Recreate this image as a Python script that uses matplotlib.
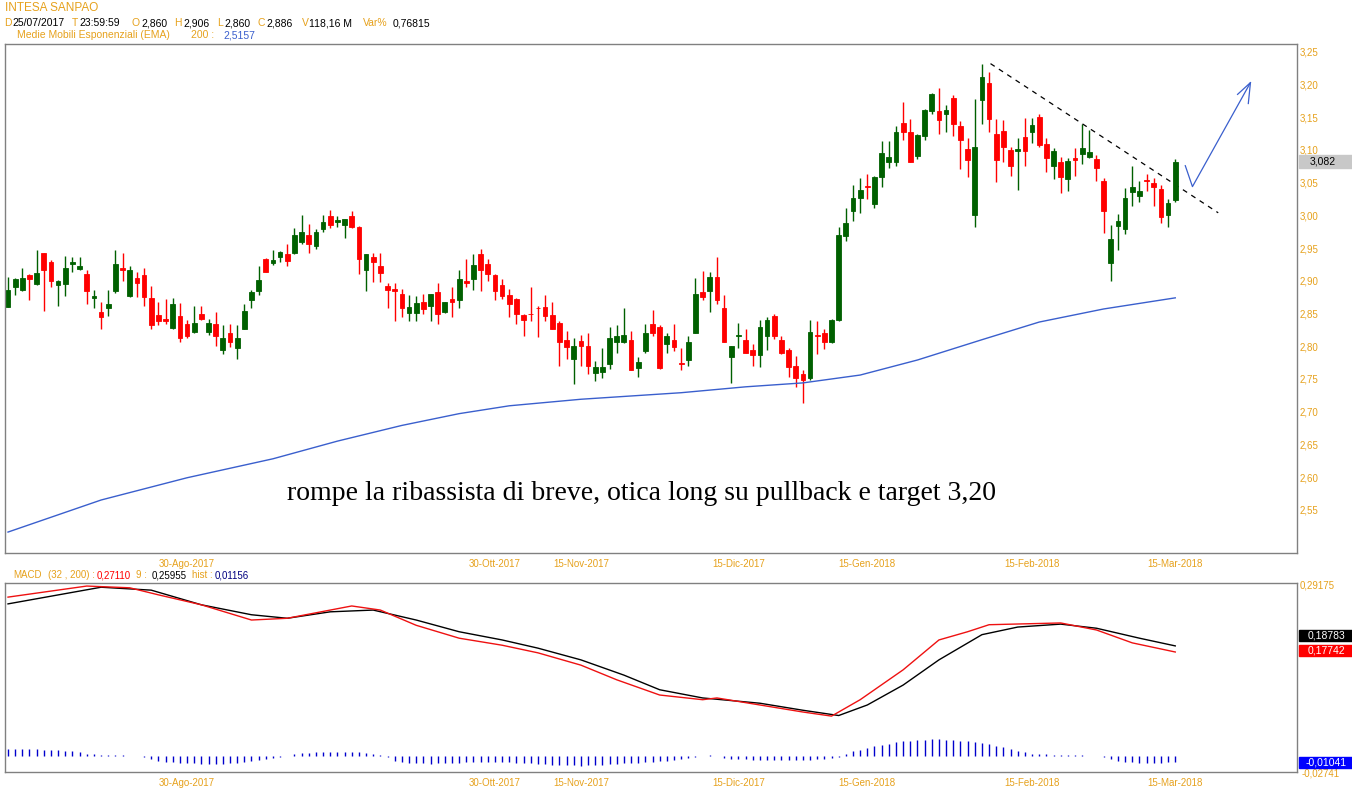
import numpy as np
import pandas as pd
import matplotlib
matplotlib.use("Agg")
import matplotlib.pyplot as plt
from matplotlib.patches import Rectangle
from matplotlib.ticker import FuncFormatter

# ---------------- dati ----------------
start_date = "2017-07-25"
market_holidays = ["2017-08-15", "2017-12-25", "2017-12-26", "2018-01-01"]

opens = [2.860, 2.890, 2.886, 2.909, 2.895, 2.942, 2.929, 2.893, 2.895, 2.925,
         2.918, 2.911, 2.873, 2.853, 2.858, 2.885, 2.920, 2.877, 2.904, 2.909,
         2.873, 2.848, 2.841, 2.828, 2.846, 2.834, 2.822, 2.850, 2.822, 2.834,
         2.795, 2.821, 2.797, 2.827, 2.870, 2.885, 2.934, 2.928, 2.936, 2.941,
         2.942, 2.960, 2.970, 2.954, 2.979, 2.999, 2.990, 2.985, 2.999, 2.983,
         2.916, 2.937, 2.923, 2.892, 2.887, 2.880, 2.851, 2.851, 2.867, 2.861,
         2.883, 2.852, 2.872, 2.870, 2.900, 2.903, 2.941, 2.926, 2.909, 2.894,
         2.878, 2.872, 2.848, 2.850, 2.859, 2.860, 2.848, 2.836, 2.809, 2.781,
         2.808, 2.800, 2.759, 2.761, 2.773, 2.806, 2.806, 2.810, 2.767, 2.793,
         2.834, 2.829, 2.803, 2.810, 2.775, 2.779, 2.821, 2.883, 2.884, 2.906,
         2.859, 2.783, 2.815, 2.810, 2.794, 2.787, 2.815, 2.846, 2.810, 2.795,
         2.770, 2.757, 2.752, 2.817, 2.820, 2.807, 2.840, 2.969, 3.006, 3.027,
         3.045, 3.018, 3.058, 3.081, 3.081, 3.142, 3.128, 3.091, 3.122, 3.160,
         3.160, 3.155, 3.180, 3.137, 3.102, 3.000, 3.176, 3.202, 3.125, 3.129,
         3.100, 3.099, 3.120, 3.127, 3.151, 3.109, 3.076, 3.081, 3.055, 3.087,
         3.094, 3.090, 3.086, 3.053, 2.928, 2.984, 2.979, 3.036, 3.030, 3.054,
         3.050, 3.041, 3.000, 3.024]
highs = [2.906, 2.904, 2.919, 2.910, 2.947, 2.943, 2.932, 2.901, 2.938, 2.936,
         2.937, 2.917, 2.886, 2.867, 2.886, 2.947, 2.943, 2.923, 2.913, 2.919,
         2.892, 2.868, 2.872, 2.873, 2.866, 2.840, 2.862, 2.862, 2.841, 2.853,
         2.833, 2.834, 2.833, 2.865, 2.886, 2.923, 2.935, 2.947, 2.945, 2.956,
         2.980, 3.000, 2.987, 2.979, 3.001, 3.008, 2.999, 2.995, 3.007, 2.984,
         2.941, 2.942, 2.943, 2.896, 2.896, 2.887, 2.878, 2.877, 2.880, 2.880,
         2.896, 2.868, 2.890, 2.917, 2.934, 2.941, 2.948, 2.934, 2.911, 2.903,
         2.887, 2.873, 2.850, 2.890, 2.861, 2.878, 2.867, 2.839, 2.823, 2.813,
         2.817, 2.820, 2.777, 2.797, 2.829, 2.833, 2.858, 2.824, 2.783, 2.834,
         2.855, 2.833, 2.820, 2.834, 2.797, 2.816, 2.905, 2.915, 2.913, 2.937,
         2.878, 2.801, 2.835, 2.826, 2.803, 2.840, 2.844, 2.850, 2.816, 2.797,
         2.785, 2.764, 2.840, 2.839, 2.827, 2.842, 2.982, 3.011, 3.046, 3.057,
         3.064, 3.060, 3.114, 3.114, 3.137, 3.173, 3.147, 3.124, 3.162, 3.187,
         3.194, 3.169, 3.184, 3.144, 3.118, 3.178, 3.232, 3.219, 3.147, 3.146,
         3.104, 3.118, 3.149, 3.149, 3.155, 3.118, 3.103, 3.089, 3.088, 3.103,
         3.139, 3.131, 3.092, 3.057, 2.985, 3.002, 3.042, 3.076, 3.053, 3.063,
         3.057, 3.046, 3.025, 3.086]
lows = [2.860, 2.878, 2.884, 2.870, 2.893, 2.854, 2.890, 2.861, 2.877, 2.914,
        2.917, 2.865, 2.859, 2.827, 2.847, 2.882, 2.899, 2.875, 2.876, 2.861,
        2.826, 2.833, 2.834, 2.827, 2.807, 2.812, 2.821, 2.840, 2.817, 2.801,
        2.788, 2.799, 2.780, 2.826, 2.858, 2.878, 2.913, 2.924, 2.929, 2.923,
        2.941, 2.956, 2.942, 2.949, 2.975, 2.980, 2.982, 2.966, 2.980, 2.910,
        2.885, 2.898, 2.898, 2.859, 2.839, 2.845, 2.838, 2.839, 2.850, 2.839,
        2.834, 2.851, 2.845, 2.858, 2.890, 2.886, 2.885, 2.899, 2.871, 2.872,
        2.845, 2.834, 2.816, 2.839, 2.814, 2.839, 2.826, 2.770, 2.780, 2.742,
        2.770, 2.758, 2.747, 2.751, 2.765, 2.790, 2.805, 2.763, 2.753, 2.790,
        2.815, 2.766, 2.790, 2.793, 2.763, 2.770, 2.820, 2.871, 2.852, 2.864,
        2.806, 2.744, 2.798, 2.789, 2.770, 2.768, 2.795, 2.811, 2.788, 2.753,
        2.737, 2.713, 2.749, 2.788, 2.796, 2.805, 2.839, 2.961, 2.992, 3.004,
        3.025, 3.012, 3.043, 3.072, 3.075, 3.115, 3.081, 3.086, 3.115, 3.155,
        3.125, 3.127, 3.121, 3.071, 3.059, 2.982, 3.139, 3.128, 3.051, 3.081,
        3.060, 3.039, 3.076, 3.111, 3.104, 3.067, 3.055, 3.035, 3.037, 3.060,
        3.078, 3.087, 3.053, 2.973, 2.899, 2.947, 2.971, 3.015, 3.020, 3.037,
        3.015, 2.989, 2.983, 3.020]
closes = [2.886, 2.903, 2.905, 2.903, 2.912, 2.916, 2.899, 2.900, 2.919, 2.929,
          2.923, 2.884, 2.877, 2.845, 2.865, 2.926, 2.916, 2.917, 2.896, 2.876,
          2.833, 2.839, 2.839, 2.865, 2.812, 2.815, 2.835, 2.841, 2.835, 2.815,
          2.813, 2.806, 2.813, 2.854, 2.883, 2.902, 2.914, 2.932, 2.944, 2.931,
          2.970, 2.974, 2.956, 2.975, 2.990, 2.986, 2.993, 2.995, 2.983, 2.933,
          2.941, 2.929, 2.912, 2.886, 2.885, 2.858, 2.860, 2.866, 2.857, 2.880,
          2.850, 2.868, 2.867, 2.903, 2.896, 2.924, 2.916, 2.911, 2.885, 2.877,
          2.865, 2.850, 2.840, 2.849, 2.858, 2.846, 2.827, 2.806, 2.799, 2.800,
          2.801, 2.770, 2.768, 2.768, 2.812, 2.816, 2.817, 2.764, 2.776, 2.820,
          2.821, 2.767, 2.816, 2.799, 2.773, 2.807, 2.880, 2.876, 2.906, 2.871,
          2.807, 2.801, 2.817, 2.790, 2.787, 2.829, 2.840, 2.816, 2.789, 2.769,
          2.752, 2.748, 2.822, 2.815, 2.807, 2.840, 2.970, 2.988, 3.026, 3.039,
          3.043, 3.059, 3.095, 3.089, 3.128, 3.128, 3.082, 3.123, 3.161, 3.186,
          3.146, 3.161, 3.139, 3.115, 3.084, 3.105, 3.211, 3.148, 3.084, 3.104,
          3.075, 3.102, 3.098, 3.138, 3.108, 3.088, 3.099, 3.058, 3.083, 3.085,
          3.103, 3.097, 3.073, 3.006, 2.964, 2.992, 3.027, 3.043, 3.038, 3.052,
          3.043, 2.997, 3.019, 3.082]

ema_idx = [0, 13, 25, 37, 46, 55, 63, 70, 80, 94, 103, 111, 119, 127, 136, 144, 153, 163]
ema_val = [2.516, 2.565, 2.599, 2.628, 2.655, 2.679, 2.697, 2.709, 2.719, 2.729,
           2.738, 2.744, 2.756, 2.779, 2.810, 2.837, 2.857, 2.874]

# MACD (linea rossa) e segnale (linea nera)
macd_idx = [0, 11, 17, 21, 27, 34, 39, 45, 48, 52, 57, 63, 69, 74, 80, 85, 91, 97,
            99, 105, 111, 115, 119, 125, 130, 134, 137, 147, 152, 157, 163]
macd_val = [0.2711, 0.290, 0.287, 0.275, 0.258, 0.232, 0.235, 0.249, 0.256, 0.249,
            0.223, 0.201, 0.189, 0.176, 0.155, 0.130, 0.104, 0.096, 0.099, 0.087,
            0.075, 0.068, 0.096, 0.147, 0.198, 0.212, 0.224, 0.227, 0.215, 0.193,
            0.17742]
sig_idx = [0, 13, 20, 27, 34, 39, 45, 51, 57, 63, 69, 74, 80, 86, 91, 97, 105, 111,
           116, 120, 125, 130, 136, 141, 147, 152, 158, 163]
sig_val = [0.25955, 0.288, 0.283, 0.258, 0.241, 0.235, 0.246, 0.249, 0.232, 0.212,
           0.198, 0.184, 0.164, 0.138, 0.113, 0.099, 0.090, 0.078, 0.069, 0.087,
           0.121, 0.164, 0.207, 0.220, 0.225, 0.218, 0.201, 0.18783]

hist = [0.0116, 0.0118, 0.0118, 0.0116, 0.0112, 0.0108, 0.0102, 0.0095, 0.0088, 0.0080, 0.0070,
        0.0040, 0.0025, 0.0015, 0.0012, 0.0010, 0.0008, 0.0006, 0.0003,
        -0.0020, -0.0060, -0.0080, -0.0095, -0.0105, -0.0115, -0.0122, -0.0128, -0.0132,
        -0.0135, -0.0135, -0.0132, -0.0125, -0.0115, -0.0100, -0.0085, -0.0065,
        -0.0045, -0.0030, -0.0015, 0.0005,
        0.0030, 0.0045, 0.0055, 0.0060, 0.0065, 0.0068, 0.0070, 0.0072, 0.0068, 0.0060, 0.0050,
        0.0030, 0.0010, -0.0020,
        -0.0080, -0.0105, -0.0118, -0.0125, -0.0128, -0.0130, -0.0128, -0.0125, -0.0120,
        -0.0115, -0.0110, -0.0105, -0.0102, -0.0100, -0.0102, -0.0105, -0.0108, -0.0112,
        -0.0118, -0.0125, -0.0132, -0.0140, -0.0148, -0.0155, -0.0160, -0.0163, -0.0165,
        -0.0163, -0.0158, -0.0150, -0.0142, -0.0135, -0.0128, -0.0120, -0.0112, -0.0105,
        -0.0098, -0.0090, -0.0080, -0.0068, -0.0055, -0.0040, -0.0020,
        0.0005, 0.0010, 0.0005,
        -0.0030, -0.0045, -0.0055, -0.0060, -0.0065, -0.0068, -0.0070, -0.0072, -0.0072,
        -0.0070, -0.0068, -0.0065, -0.0062, -0.0058, -0.0050, -0.0035, -0.0015,
        0.0040, 0.0080, 0.0110, 0.0140, 0.0165, 0.0190, 0.0212, 0.0232, 0.0250, 0.0262,
        0.0272, 0.0278, 0.0282, 0.0283, 0.0280, 0.0272, 0.0262, 0.0250, 0.0235, 0.0218,
        0.0198, 0.0175, 0.0150, 0.0120, 0.0090, 0.0060,
        0.0040, 0.0030, 0.0025, 0.0020, 0.0015, 0.0012, 0.0010, 0.0008, 0.0005, 0.0003, -0.0010,
        -0.0060, -0.0085, -0.0100, -0.0110, -0.0115, -0.0118, -0.0118, -0.0115, -0.0110, -0.01041]

tick_dates = ["2017-08-30", "2017-10-30", "2017-11-15", "2017-12-15",
              "2018-01-15", "2018-02-15", "2018-03-15"]
tick_labels = ["30-Ago-2017", "30-Ott-2017", "15-Nov-2017", "15-Dic-2017",
               "15-Gen-2018", "15-Feb-2018", "15-Mar-2018"]

# linea ribassista tratteggiata e freccia del target (indice barra, prezzo)
trend_x = [137.2, 169.0]
trend_y = [3.232, 3.004]
arrow_x = [164.4, 165.4, 173.5]
arrow_y = [3.076, 3.044, 3.203]
head_x = [171.7, 173.5, 173.2]
head_y = [3.185, 3.203, 3.171]

# ---------------- grafico ----------------
ORANGE = "#e6a11c"
GREEN = "#006000"
RED = "#ff0000"
BLUE = "#3a5fcd"
W, H = 1352, 800

plt.rcParams["font.family"] = ["Liberation Sans", "DejaVu Sans"]

def fx(x):
    return x / W

def fy(y):
    return 1 - y / H

o = np.array(opens); h = np.array(highs); l = np.array(lows); c = np.array(closes)
idx = np.arange(len(c))
dates = pd.bdate_range(start_date, periods=len(c), freq="C", holidays=market_holidays)
tick_pos = [dates.get_loc(pd.Timestamp(d)) for d in tick_dates]

fig = plt.figure(figsize=(W / 100, H / 100), dpi=100)
ax = fig.add_axes([fx(5), fy(553), fx(1292), 509 / H])
ax2 = fig.add_axes([fx(5), fy(772), fx(1292), 189 / H])

col = np.where(c >= o, GREEN, RED)
ax.vlines(idx, l, h, colors=col, lw=1, zorder=2)
ax.bar(idx, c - o, bottom=o, width=0.66, color=col, edgecolor=col, linewidth=0.6, zorder=3)
ax.plot(ema_idx, ema_val, color=BLUE, lw=1, zorder=2)

ax.plot(trend_x, trend_y, color="black", lw=0.9, dashes=(4, 4))
ax.plot(arrow_x, arrow_y, color=BLUE, lw=0.9)
ax.plot(head_x, head_y, color=BLUE, lw=0.9)

ax.text((287 - 5) / 1292, (553 - 493) / 509,
        "rompe la ribassista di breve, otica long su pullback e target 3,20",
        transform=ax.transAxes, family=["Liberation Serif", "DejaVu Serif"],
        fontsize=20, va="center", ha="left")

it_fmt = FuncFormatter(lambda v, p: f"{v:.2f}".replace(".", ","))
ax.set_xlim(-0.42, 180)
ax.set_ylim(2.484, 3.262)
ax.set_yticks(np.arange(2.55, 3.26, 0.05))
ax.yaxis.set_major_formatter(it_fmt)
ax.yaxis.tick_right()
ax.set_xticks(tick_pos)
ax.set_xticklabels(tick_labels)

ax2.vlines(idx, 0, hist, colors="#0000cc", lw=1)
ax2.plot(sig_idx, sig_val, color="black", lw=1)
ax2.plot(macd_idx, macd_val, color="#ee1111", lw=1)
ax2.set_xlim(-0.42, 180)
ax2.set_ylim(-0.0274, 0.2952)
ax2.set_yticks([])
ax2.set_xticks(tick_pos)
ax2.set_xticklabels(tick_labels)

for a in (ax, ax2):
    for s in a.spines.values():
        s.set_color("#808080")
        s.set_linewidth(1)
    a.tick_params(axis="x", length=0, labelsize=7, labelcolor=ORANGE, pad=4)
    a.tick_params(axis="y", length=0, labelsize=7, labelcolor=ORANGE, pad=2)

# etichette a destra
fig.patches.append(Rectangle((fx(1299), fy(168)), fx(53), 13 / H, transform=fig.transFigure,
                             color="#c8c8c8", zorder=1))
fig.text(fx(1323), fy(161.5), "3,082", ha="center", va="center", fontsize=7.5, color="black")

fig.text(fx(1300), fy(585), "0,29175", ha="left", va="center", fontsize=7, color=ORANGE)
fig.text(fx(1302), fy(773), "-0,02741", ha="left", va="center", fontsize=7, color=ORANGE,
         zorder=1)
for ytop, txt, bg in [(630, "0,18783", "black"), (645, "0,17742", RED), (757, "-0,01041", "#0000ff")]:
    fig.patches.append(Rectangle((fx(1299), fy(ytop + 11)), fx(53), 11 / H,
                                 transform=fig.transFigure, color=bg, zorder=2))
    fig.text(fx(1326), fy(ytop + 5.5), txt, ha="center", va="center", fontsize=7.5,
             color="white", zorder=3)

# intestazioni
fig.text(fx(5), fy(8), "INTESA SANPAO", fontsize=8.5, color=ORANGE, va="center")
line2 = [(4, "D", ORANGE), (12, "25/07/2017", "black"), (72, "T", ORANGE), (79, "23:59:59", "black"),
         (132, "O", ORANGE), (141, "2,860", "black"), (174, "H", ORANGE), (183, "2,906", "black"),
         (217, "L", ORANGE), (224, "2,860", "black"), (258, "C", ORANGE), (266, "2,886", "black"),
         (302, "V", ORANGE), (309, "118,16 M", "black"), (363, "Var%", ORANGE), (393, "0,76815", "black")]
for x, t, cl in line2:
    fig.text(fx(x), fy(23), t, fontsize=7.5, color=cl, va="center")
fig.text(fx(17), fy(35), "Medie Mobili Esponenziali (EMA)", fontsize=7.5, color=ORANGE, va="center")
fig.text(fx(191), fy(35), "200 :", fontsize=7.5, color=ORANGE, va="center")
fig.text(fx(223), fy(35), "2,5157", fontsize=7.5, color=BLUE, va="center")

line_macd = [(13, "MACD", ORANGE), (48, "(32 , 200) :", ORANGE), (97, "0,27110", RED),
             (136, "9 :", ORANGE), (152, "0,25955", "black"), (192, "hist :", ORANGE),
             (215, "0,01156", "#000080")]
for x, t, cl in line_macd:
    fig.text(fx(x), fy(575), t, fontsize=7, color=cl, va="center")

fig.savefig("out.png", dpi=100)
